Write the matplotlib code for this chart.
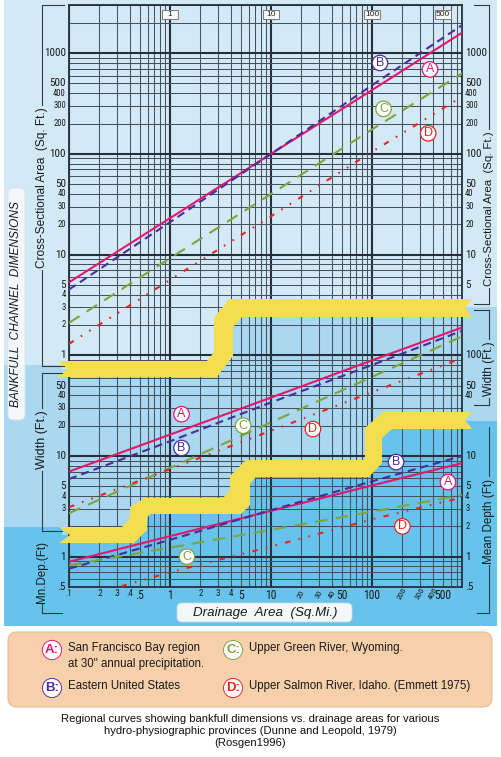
import numpy as np
import matplotlib
matplotlib.use("Agg")
import matplotlib.pyplot as plt
from matplotlib import font_manager as fm
from matplotlib.patches import Polygon, FancyBboxPatch, Rectangle
from matplotlib.ticker import LogLocator, NullFormatter
from matplotlib.transforms import blended_transform_factory as blend

plt.rcParams['lines.scale_dashes'] = False
SANS = ['Liberation Sans', 'DejaVu Sans']


def pick_narrow():
    names = {f.name for f in fm.fontManager.ttflist}
    for n in ['Liberation Sans Narrow', 'Arial Narrow', 'Roboto Condensed', 'Open Sans Condensed',
              'Noto Sans Condensed', 'DejaVu Sans Condensed']:
        if n in names:
            return dict(family=[n]), 1.0
    for f in fm.fontManager.ttflist:
        if str(f.stretch) in ('condensed', 'semi-condensed') and f.style == 'normal' \
                and str(f.weight) in ('400', 'normal', 'regular', 'book'):
            return dict(family=[f.name], fontstretch=f.stretch), 1.0
    return dict(family=SANS), 0.8


NARROW, NSCALE = pick_narrow()

# ---------------- data ----------------
drainage = [0.1, 1, 10, 100, 780]
area_A = [5.3, 23, 100, 430, 1600]
area_B = [4.5, 21, 100, 480, 1900]
area_C = [2.1, 9.2, 40, 175, 630]
area_D = [1.3, 5.6, 24, 105, 370]
width_A = [7.0, 16.3, 38, 89, 189]
width_B = [5.9, 14, 34, 80, 175]
width_C = [2.7, 7.6, 21.6, 61, 154]
width_D = [3.1, 7.4, 17.8, 43, 94]
depth_A = [0.89, 1.6, 2.85, 5.1, 8.5]
depth_B = [0.76, 1.47, 2.9, 5.6, 10]
depth_C = [0.82, 1.23, 1.85, 2.8, 4.1]
drainage_D_depth = [0.33, 1, 10, 100, 780]
depth_D = [0.51, 0.7, 1.26, 2.35, 3.87]

x_ticks = [0.1, 0.2, 0.3, 0.4, 0.5, 1, 2, 3, 4, 5, 10, 20, 30, 40, 50, 100, 200, 300, 400, 500]
x_labels = ['.1', '.2', '.3', '.4', '.5', '1', '2', '3', '4', '5', '10', '20', '30', '40', '50',
            '100', '200', '300', '400', '500']
top_marks = [1, 10, 100, 500]
area_ticks_left = [1000, 500, 400, 300, 200, 100, 50, 40, 30, 20, 10, 5, 4, 3, 2, 1]
area_ticks_right = [1000, 500, 400, 300, 200, 100, 50, 40, 30, 20, 10, 5]
width_ticks_left = [50, 40, 30, 20, 10, 5, 4, 3]
width_ticks_right = [100, 50, 40]
depth_ticks_left = [1, 0.5]
depth_ticks_right = [10, 5, 4, 3, 2, 1, 0.5]

lab_area = {'A': (375, 690), 'B': (120, 800), 'C': (130, 280), 'D': (360, 160)}
lab_width = {'A': (1.3, 26), 'B': (1.3, 12), 'C': (5.3, 20), 'D': (26, 18.5)}
lab_depth = {'A': (565, 5.5), 'B': (173, 8.7), 'C': (1.47, 1.0), 'D': (200, 2.0)}

legend_letters = ['A', 'B', 'C', 'D']
legend_texts = ['San Francisco Bay region\nat 30" annual precipitation.', 'Eastern United States',
                'Upper Green River, Wyoming.', 'Upper Salmon River, Idaho. (Emmett 1975)']
caption = ['Regional curves showing bankfull dimensions vs. drainage areas for various',
           'hydro-physiographic provinces (Dunne and Leopold, 1979)',
           '(Rosgen1996)']

# ---------------- styles ----------------
COL = {'A': '#e3176c', 'B': '#4a2c9c', 'C': '#7ea43c', 'D': '#e8231f'}
STY = {'A': dict(ls='-'),
       'B': dict(ls=(0, (5.8, 3.6))),
       'C': dict(ls=(0, (9, 6))),
       'D': dict(ls=(0, (4.0, 6.0, 1.2, 6.0, 1.2, 6.0)))}
LIGHT, MID, DEEP = '#d3eaf6', '#a9d8f0', '#68c3ec'
YEL = '#f3de50'

W, H = 501, 757
fig = plt.figure(figsize=(W / 100, H / 100), dpi=100)


def rect(x0, y0, x1, y1):
    return [x0 / W, 1 - y1 / H, (x1 - x0) / W, (y1 - y0) / H]


bg = fig.add_axes([0, 0, 1, 1], zorder=0)
bg.set_xlim(0, W); bg.set_ylim(H, 0); bg.axis('off')

light_poly = [(4, 0), (497, 0), (497, 307), (224, 307), (224, 360), (210, 369), (62, 369), (62, 365), (4, 365)]
mid_poly = [(4, 365), (62, 365), (62, 369), (210, 369), (224, 360), (224, 307), (497, 307), (497, 421),
            (374, 421), (374, 468), (240, 468), (240, 506), (138, 506), (138, 535), (62, 535), (62, 527), (4, 527)]
bg.add_patch(Rectangle((4, 0), 493, 626, fc=DEEP, ec='none'))
bg.add_patch(Polygon(mid_poly, fc=MID, ec='none'))
bg.add_patch(Polygon(light_poly, fc=LIGHT, ec='none'))

PLOT = (69, 5, 462, 587)
XDEC, YDEC = 101.0, 100.7
xmin = 0.1
xmax = xmin * 10 ** ((PLOT[2] - PLOT[0]) / XDEC)
dmin = 0.5
dmax = dmin * 10 ** ((PLOT[3] - PLOT[1]) / YDEC)

ax_d = fig.add_axes(rect(*PLOT), zorder=1)
ax_w = fig.add_axes(rect(*PLOT), zorder=2)
ax_a = fig.add_axes(rect(*PLOT), zorder=3)
for ax, lo, hi in [(ax_d, dmin, dmax), (ax_w, dmin, dmax), (ax_a, dmin / 100, dmax / 100)]:
    ax.set_xscale('log'); ax.set_yscale('log')
    ax.set_xlim(xmin, xmax); ax.set_ylim(lo, hi)
    ax.set_facecolor('none')
for ax in (ax_w, ax_a):
    ax.axis('off')

for axis in (ax_d.xaxis, ax_d.yaxis):
    axis.set_major_locator(LogLocator(10, numticks=40))
    axis.set_minor_locator(LogLocator(10, subs=np.arange(2, 10), numticks=40))
    axis.set_minor_formatter(NullFormatter())
ax_d.tick_params(which='both', length=0, labelleft=False, labelbottom=False)
ax_d.set_axisbelow(True)
ax_d.grid(which='major', color='#26303a', lw=1.5)
ax_d.grid(which='minor', color='#46535f', lw=0.75)
for s in ax_d.spines.values():
    s.set_color('#26303a'); s.set_linewidth(1.3)

# ribbons (decorative, pixel coordinates)
R1 = [(58, 361), (207, 361), (214, 352), (214, 318), (229, 299), (472, 299), (465, 308), (472, 317),
      (242, 317), (233, 327), (233, 356), (217, 377), (58, 377), (67, 369)]
R2 = [(59, 527), (122, 527), (130, 518), (130, 507), (145, 498), (223, 498), (230, 490), (230, 476),
      (246, 460), (365, 460), (365, 428), (383, 412), (472, 412), (465, 420), (472, 429), (392, 429),
      (382, 438), (382, 463), (369, 477), (256, 477), (250, 484), (250, 505), (241, 514), (150, 514),
      (147, 518), (147, 530), (134, 543), (59, 543), (70, 535)]
for R in (R1, R2):
    ax_d.add_patch(Polygon(R, closed=True, transform=bg.transData, fc=YEL, ec='none',
                           zorder=3, clip_on=False))

# curves
series = [(ax_a, drainage, {'A': area_A, 'B': area_B, 'C': area_C, 'D': area_D}),
          (ax_w, drainage, {'A': width_A, 'B': width_B, 'C': width_C, 'D': width_D}),
          (ax_d, drainage, {'A': depth_A, 'B': depth_B, 'C': depth_C})]
for ax, xs, d in series:
    for k, ys in d.items():
        ax.plot(xs, ys, color=COL[k], lw=1.5, zorder=5, dash_capstyle='butt', **STY[k])
ax_d.plot(drainage_D_depth, depth_D, color=COL['D'], lw=1.5, zorder=5, dash_capstyle='butt', **STY['D'])

for ax, labs in [(ax_a, lab_area), (ax_w, lab_width), (ax_d, lab_depth)]:
    for k, (x, y) in labs.items():
        ax.text(x, y, k, ha='center', va='center', color=COL[k], fontsize=9, family=SANS, zorder=6,
                bbox=dict(boxstyle='circle,pad=0.14', fc='white', ec=COL[k], lw=0.9))


# tick labels
def fmt(v):
    return ('%g' % v).lstrip('0') if v < 1 else '%d' % v


def big(v):
    return fmt(v).lstrip('.')[0] in '15'


BIG, SMALL = 8.0 * NSCALE, 6.2 * NSCALE
for ax, vals, side in [(ax_a, area_ticks_left, 'L'), (ax_a, area_ticks_right, 'R'),
                       (ax_w, width_ticks_left, 'L'), (ax_w, width_ticks_right, 'R'),
                       (ax_d, depth_ticks_left, 'L'), (ax_d, depth_ticks_right, 'R')]:
    tr = blend(ax_d.transAxes, ax.transData)
    for v in vals:
        fs = BIG if big(v) else SMALL
        if side == 'L':
            fig.text(-0.008, v, fmt(v), transform=tr, ha='right', va='center',
                     fontsize=fs, color='#1a1a1a', **NARROW)
        else:
            fig.text(1.008, v, fmt(v), transform=tr, ha='left', va='center',
                     fontsize=fs, color='#1a1a1a', **NARROW)

trx = blend(ax_d.transData, ax_d.transAxes)
for v, lab in zip(x_ticks, x_labels):
    lead = lab.lstrip('.')[0]
    if lab in ('20', '30', '40', '200', '300', '400'):
        fig.text(v, -0.012, lab, transform=trx, ha='center', va='center', fontsize=6.0 * NSCALE ** 0.5,
                 rotation=60, color='#1a1a1a', **NARROW)
    elif lead in '15' and lab != '.1':
        fig.text(v, -0.014, lab, transform=trx, ha='center', va='center', fontsize=8.4 * NSCALE ** 0.5,
                 color='#1a1a1a', **NARROW)
    else:
        fig.text(v, -0.012, lab, transform=trx, ha='center', va='center', fontsize=6.4 * NSCALE ** 0.5,
                 color='#1a1a1a', **NARROW)

# top reference boxes ("1", "10", "100", "500")
ov = fig.add_axes([0, 0, 1, 1], zorder=10)
ov.set_xlim(0, W); ov.set_ylim(H, 0); ov.axis('off')
trtop = blend(ax_d.transData, ov.transData)
half = 10 ** (8 / XDEC)
for v in top_marks:
    ov.add_patch(Rectangle((v / half, 9.5), v * half - v / half, 9, transform=trtop,
                           fc='#f7f7f7', ec='#7a7a7a', lw=0.7, zorder=4))
    ov.text(v, 14, '%d' % v, transform=trtop, ha='center', va='center', fontsize=6,
            family=SANS, color='#222', zorder=5)

# ---------------- overlay: brackets, titles, legend ----------------
BR = '#333a40'


def bracket(x, y0, y1, xin, top=True, bottom=True):
    ov.plot([x, x], [y0, y1], color=BR, lw=0.8)
    if top:
        ov.plot([x, xin], [y0, y0], color=BR, lw=0.8)
    if bottom:
        ov.plot([x, xin], [y1, y1], color=BR, lw=0.8)


bracket(42, 5, 366, 64)
bracket(42, 373, 531, 62)
bracket(42, 540, 613, 62, top=False)
bracket(489, 5, 304, 474)
bracket(489, 310, 405, 474)
bracket(489, 427, 613, 477, top=False)


def vtitle(x, y, s, fc, size=8.6):
    ov.text(x, y, s, rotation=90, ha='center', va='center', fontsize=size, family=SANS,
            color='#1a1a1a', bbox=dict(boxstyle='square,pad=0.12', fc=fc, ec='none'))


vtitle(42, 188, 'Cross-Sectional Area  (Sq. Ft.)', LIGHT)
vtitle(42, 440, 'Width (Ft.)', MID, 9)
vtitle(42, 572, 'Mn.Dep.(Ft)', DEEP, 8.4)
vtitle(489, 209, 'Cross-Sectional Area  (Sq. Ft.)', LIGHT, 8.2)
vtitle(489, 369, 'Width (Ft.)', MID, 8.4)
vtitle(489, 521, 'Mean Depth (Ft)', DEEP, 8.4)

ov.add_patch(FancyBboxPatch((8, 188), 17, 232, boxstyle='round,pad=0,rounding_size=6',
                            fc='#f3f7f9', ec='#d6e4ea', lw=0.6))
ov.text(16.5, 304, 'BANKFULL  CHANNEL  DIMENSIONS', rotation=90, ha='center', va='center',
        fontsize=8.6, style='italic', family=SANS, color='#1a1a1a')

ov.add_patch(FancyBboxPatch((177, 603), 175, 19, boxstyle='round,pad=0,rounding_size=5',
                            fc='#f4f7f8', ec='#c9d9e1', lw=0.6))
ov.text(265, 613, 'Drainage  Area  (Sq.Mi.)', ha='center', va='center', fontsize=9.6,
        style='italic', family=SANS, color='#1a1a1a')

# legend
ov.add_patch(FancyBboxPatch((8, 632), 484, 75, boxstyle='round,pad=0,rounding_size=9',
                            fc='#f6d0ab', ec='#e9bb93', lw=0.8))
pos = {'A': (52, 650), 'B': (52, 688), 'C': (233, 650), 'D': (233, 688)}
for k, txt in zip(legend_letters, legend_texts):
    cx, cy = pos[k]
    ov.text(cx, cy, k + ':', ha='center', va='center', fontsize=9.5, fontweight='bold',
            family=SANS, color=COL[k],
            bbox=dict(boxstyle='circle,pad=0.2', fc='white', ec=COL[k], lw=0.7, alpha=0.95))
    lines = txt.split('\n')
    for i, ln in enumerate(lines):
        ov.text(cx + 16, cy - 2 + 16 * i, ln, ha='left', va='center', fontsize=8.3,
                family=SANS, color='#1a1a1a')

for i, ln in enumerate(caption):
    ov.text(250.5, 719.5 + 11.6 * i, ln, ha='center', va='center', fontsize=8.1,
            family=SANS, color='#111')

fig.savefig('out.png', dpi=100)
